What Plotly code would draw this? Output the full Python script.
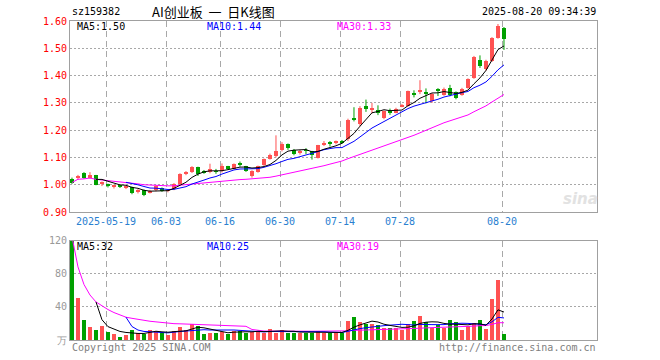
import plotly.graph_objects as go
import pandas as pd

# ---------------- data ----------------
opens = [1.022,1.026,1.044,1.026,1.034,1.003,1.002,0.993,0.997,0.990,
         0.991,0.972,0.979,0.971,0.979,0.988,0.977,0.983,1.001,1.042,
         1.045,1.064,1.049,1.045,1.050,1.049,1.067,1.059,1.076,1.067,
         1.032,1.046,1.071,1.096,1.106,1.126,1.148,1.128,1.118,1.127,
         1.122,1.099,1.148,1.155,1.153,1.160,1.166,1.242,1.224,1.289,
         1.275,1.273,1.243,1.269,1.263,1.287,1.288,1.337,1.341,1.337,
         1.306,1.350,1.329,1.354,1.339,1.330,1.354,1.391,1.458,1.425,
         1.452,1.538,1.576]
highs = [1.026,1.036,1.046,1.046,1.036,1.012,1.004,1.000,1.000,0.996,
         0.993,0.984,0.982,0.981,0.997,0.990,0.984,1.006,1.042,1.050,
         1.068,1.066,1.054,1.077,1.058,1.078,1.069,1.078,1.085,1.069,
         1.053,1.070,1.096,1.114,1.181,1.156,1.151,1.131,1.128,1.134,
         1.124,1.146,1.160,1.160,1.162,1.164,1.242,1.284,1.288,1.312,
         1.300,1.291,1.272,1.279,1.282,1.296,1.345,1.346,1.383,1.353,
         1.336,1.354,1.356,1.366,1.342,1.355,1.390,1.472,1.474,1.458,
         1.541,1.589,1.578]
lows = [1.003,1.018,1.022,1.022,0.998,0.995,0.990,0.986,0.988,0.984,
        0.965,0.968,0.958,0.968,0.976,0.974,0.972,0.980,0.999,1.035,
        1.043,1.032,1.040,1.042,1.040,1.045,1.056,1.056,1.066,1.047,
        1.026,1.044,1.069,1.092,1.100,1.122,1.128,1.108,1.110,1.112,
        1.092,1.096,1.142,1.140,1.148,1.150,1.160,1.232,1.214,1.267,
        1.262,1.255,1.240,1.256,1.262,1.284,1.286,1.320,1.332,1.298,
        1.300,1.325,1.326,1.324,1.313,1.326,1.352,1.388,1.428,1.418,
        1.450,1.535,1.494]
closes = [1.008,1.032,1.024,1.034,1.000,1.007,0.998,0.998,0.994,0.993,
          0.968,0.981,0.962,0.978,0.994,0.977,0.980,1.004,1.038,1.046,
          1.066,1.040,1.046,1.056,1.047,1.068,1.059,1.075,1.073,1.049,
          1.050,1.067,1.094,1.110,1.124,1.151,1.136,1.112,1.122,1.124,
          1.108,1.144,1.152,1.152,1.157,1.154,1.239,1.238,1.283,1.279,
          1.279,1.263,1.270,1.266,1.279,1.290,1.343,1.328,1.344,1.334,
          1.332,1.346,1.351,1.327,1.317,1.351,1.387,1.467,1.435,1.454,
          1.538,1.582,1.533]
volumes = [125,51.7,24.6,16.2,12.5,17.4,10.1,7.7,4.0,6.5,
           12.5,8.9,7.7,12.5,11.3,8.9,6.5,11.3,16.2,12.5,
           19.8,17.4,7.7,8.9,8.9,10.5,7.7,11.3,11.3,8.9,
           10.1,11.3,8.9,13.7,8.9,12.5,8.9,8.9,8.9,8.9,
           8.9,11.3,8.9,8.5,8.5,8.5,23.8,28.3,22.2,19.8,
           19.8,18.6,15,15,15,12.5,19.8,23.4,29.5,22.2,
           15,18.6,15,24.6,22.2,12.5,17.4,21,24.6,13.7,
           50,73,7.7]
tick_index = [6, 16, 25, 35, 45, 55, 72]
tick_labels = ["2025-05-19", "06-03", "06-16", "06-30", "07-14", "07-28", "08-20"]
price_ticks = [0.90, 1.00, 1.10, 1.20, 1.30, 1.40, 1.50, 1.60]
vol_ticks = [0, 40, 80, 120]
vol_tick_text = ["万", "40", "80", "120"]
price_legend = ["MA5:1.50", "MA10:1.44", "MA30:1.33"]
vol_legend = ["MA5:32", "MA10:25", "MA30:19"]
code_text = "sz159382"
title_text = "AI创业板 一 日K线图"
time_text = "2025-08-20 09:34:39"

# ---------------- styles ----------------
RED = "#ff5252"
GREEN = "#00a000"
GRID = "#a8a8a8"
BORDER = "#a0a0a0"
MONO = "DejaVu Sans Mono"
W, H = 660, 360
L, R, T, B = 70, 597, 21, 340
GRID_SHIFT = -0.33   # date grid lines sit just left of the candle centre

n = len(closes)
xs = list(range(n))
up = [c >= o for o, c in zip(opens, closes)]
colors = [RED if u else GREEN for u in up]

cs = pd.Series(closes)
vs = pd.Series(volumes)
ma5 = cs.rolling(5).mean()
ma10 = cs.rolling(10).mean()
ma30 = cs.rolling(30, min_periods=1).mean()
vma5 = vs.rolling(5).mean()
vma10 = vs.rolling(10).mean()
vma30 = vs.rolling(30, min_periods=1).mean()

fig = go.Figure()

# wicks
for col, flag in ((RED, True), (GREEN, False)):
    wx, wy = [], []
    for i in xs:
        if up[i] == flag:
            wx += [i, i, None]
            wy += [lows[i], highs[i], None]
    fig.add_trace(go.Scatter(x=wx, y=wy, mode="lines", line=dict(color=col, width=1),
                             hoverinfo="skip", xaxis="x", yaxis="y"))

# bodies
base = [min(o, c) for o, c in zip(opens, closes)]
hgt = [max(abs(c - o), 0.003) for o, c in zip(opens, closes)]
fig.add_trace(go.Bar(x=xs, y=hgt, base=base, width=0.82, marker=dict(color=colors, line=dict(width=0)),
                     xaxis="x", yaxis="y"))

# price MAs
for s, col in ((ma30, "#ff00ff"), (ma10, "#0000ff"), (ma5, "#000000")):
    fig.add_trace(go.Scatter(x=xs, y=s, mode="lines", line=dict(color=col, width=1),
                             xaxis="x", yaxis="y"))

# volume
fig.add_trace(go.Bar(x=xs, y=volumes, width=0.82, marker=dict(color=colors, line=dict(width=0)),
                     xaxis="x2", yaxis="y2"))
for s, col in ((vma30, "#ff00ff"), (vma10, "#0000ff"), (vma5, "#000000")):
    fig.add_trace(go.Scatter(x=xs, y=s, mode="lines", line=dict(color=col, width=1),
                             xaxis="x2", yaxis="y2"))

pw, ph = R - L, B - T
def px(x):
    return (x - L) / pw
def py(y):
    return (B - y) / ph

price_dom = [py(212), 1]
vol_dom = [0, py(240.7)]
xr = [-0.33, -0.33 + pw / 6.0]
tickpos = [i + GRID_SHIFT for i in tick_index]

axis_common = dict(showline=True, mirror=True, linecolor=BORDER, linewidth=1, automargin=False,
                   zeroline=False, ticks="", showgrid=True, gridcolor=GRID, gridwidth=1)

fig.update_layout(
    width=W, height=H, margin=dict(l=L, r=W - R, t=T, b=H - B, autoexpand=False),
    paper_bgcolor="white", plot_bgcolor="white", showlegend=False, bargap=0,
    xaxis=dict(domain=[0, 1], anchor="y", range=xr, tickvals=tickpos, ticktext=tick_labels,
               tickfont=dict(family=MONO, size=10, color="#2a80d0"), griddash="6px,4px", **axis_common),
    xaxis2=dict(domain=[0, 1], anchor="y2", matches="x", range=xr, tickvals=tickpos,
                showticklabels=False, griddash="6px,4px", **axis_common),
    yaxis=dict(domain=price_dom, anchor="x", range=[0.90, 1.60], tickvals=price_ticks,
               ticktext=["%.2f" % v for v in price_ticks],
               tickfont=dict(family=MONO, size=10, color="#ff0000"), griddash="2px,2px", **axis_common),
    yaxis2=dict(domain=vol_dom, anchor="x2", range=[0, 120], tickvals=vol_ticks, ticktext=vol_tick_text,
                tickfont=dict(family=MONO, size=10, color="#999999"), griddash="2px,2px", **axis_common),
)

ann = []
def text(x, y, s, color="#000", size=10, family=MONO, xanchor="left", **kw):
    ann.append(dict(x=px(x), y=py(y), xref="paper", yref="paper", text=s, showarrow=False,
                    xanchor=xanchor, yanchor="middle", font=dict(family=family, size=size, color=color), **kw))

text(70, 12, code_text)
text(150, 12, title_text.replace(" ", "&nbsp;&nbsp;"), size=13, family="Noto Sans CJK SC")
text(598, 12, time_text, xanchor="right")
text(75, 27, price_legend[0], "#000000")
text(205, 27, price_legend[1], "#0000ff")
text(335, 27, price_legend[2], "#ff00ff")
text(75, 247, vol_legend[0], "#000000")
text(205, 247, vol_legend[1], "#0000ff")
text(335, 247, vol_legend[2], "#ff00ff")
text(70, 348, "Copyright 2025 SINA.COM", "#808080")
text(598, 348, "http://finance.sina.com.cn", "#808080", xanchor="right")
text(580, 199, "<b><i>sina</i></b>", "#e2e2e2", size=15, family="DejaVu Sans", xanchor="center")
fig.update_layout(annotations=ann)

fig.write_html("out.html", config={"displayModeBar": False, "responsive": False},
               post_script="document.body.style.margin='0';document.body.style.padding='0';"
                           "document.body.style.overflow='hidden';")
